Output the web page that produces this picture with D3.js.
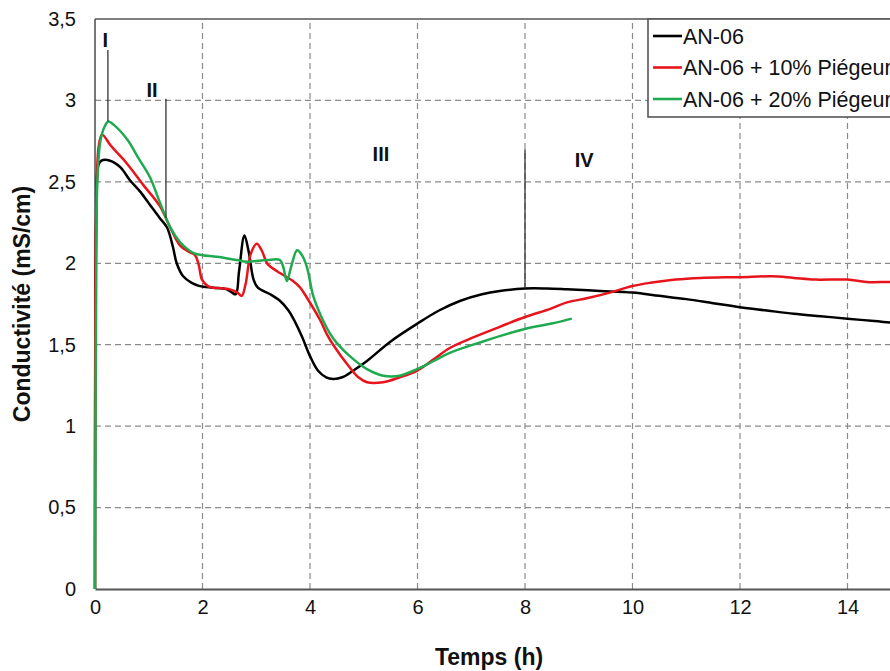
<!DOCTYPE html>
<html>
<head>
<meta charset="utf-8">
<script src="https://cdn.jsdelivr.net/npm/d3@7/dist/d3.min.js"></script>
<style>
  html, body { margin: 0; padding: 0; background: #fff; }
  svg { display: block; overflow: hidden; }
  text { font-family: "Liberation Sans", Arial, Helvetica, sans-serif; }
</style>
</head>
<body>
<div id="chart"></div>
<script>
// ---- Data ----
const seriesNames = ["AN-06", "AN-06 + 10% Piégeur", "AN-06 + 20% Piégeur"];
const seriesColors = ["#000000", "#e8141b", "#1faa50"];

// Temps (h), Conductivité (mS/cm)
const an06 = [
  [0,0],[0.03,2.4],[0.06,2.6],[0.12,2.63],[0.28,2.63],[0.47,2.59],[0.65,2.51],[0.84,2.44],
  [1.02,2.36],[1.2,2.28],[1.34,2.22],[1.45,2.1],[1.52,2.0],[1.64,1.92],[1.8,1.88],[1.95,1.86],
  [2.2,1.85],[2.45,1.84],[2.55,1.82],[2.62,1.81],[2.68,1.95],[2.78,2.17],[2.86,2.07],[2.95,1.9],
  [3.03,1.85],[3.26,1.81],[3.44,1.77],[3.6,1.71],[3.69,1.66],[3.85,1.55],[4.0,1.43],[4.15,1.34],
  [4.3,1.30],[4.43,1.29],[4.6,1.30],[4.8,1.34],[5.06,1.40],[5.5,1.52],[6.0,1.63],[6.4,1.71],
  [6.8,1.77],[7.2,1.81],[7.53,1.83],[8.0,1.845],[8.4,1.845],[8.78,1.84],[9.4,1.83],[10.0,1.82],
  [10.5,1.80],[11.0,1.78],[11.5,1.755],[12.0,1.73],[12.5,1.71],[13.0,1.69],[13.5,1.675],
  [14.0,1.66],[14.5,1.645],[15.0,1.63],[15.5,1.62]
];
const an06p10 = [
  [0,0],[0.03,2.45],[0.07,2.72],[0.13,2.79],[0.3,2.72],[0.6,2.61],[0.9,2.48],[1.21,2.35],
  [1.4,2.22],[1.58,2.11],[1.75,2.07],[1.86,2.05],[1.93,1.99],[1.99,1.90],[2.1,1.86],[2.2,1.85],
  [2.51,1.84],[2.65,1.82],[2.73,1.80],[2.8,1.87],[2.9,2.06],[3.01,2.12],[3.1,2.08],[3.2,2.0],
  [3.26,1.98],[3.44,1.94],[3.69,1.89],[3.82,1.85],[3.94,1.79],[4.19,1.65],[4.32,1.56],[4.43,1.50],
  [4.74,1.36],[4.9,1.30],[5.06,1.27],[5.36,1.27],[5.67,1.30],[5.99,1.34],[6.3,1.41],[6.6,1.48],
  [7.0,1.54],[7.53,1.61],[8.0,1.67],[8.47,1.72],[8.78,1.76],[9.15,1.785],[9.58,1.82],[10.0,1.86],
  [10.33,1.88],[10.8,1.90],[11.26,1.91],[12.0,1.915],[12.6,1.92],[13.0,1.91],[13.4,1.90],
  [14.0,1.90],[14.35,1.885],[14.8,1.885],[15.5,1.88]
];
const an06p20 = [
  [0,0],[0.03,2.3],[0.05,2.55],[0.1,2.75],[0.18,2.84],[0.25,2.87],[0.35,2.85],[0.6,2.76],
  [0.8,2.65],[1.02,2.53],[1.2,2.38],[1.4,2.22],[1.58,2.13],[1.71,2.09],[1.85,2.06],[2.0,2.05],
  [2.27,2.04],[2.64,2.02],[2.83,2.01],[3.2,2.02],[3.44,2.02],[3.5,1.98],[3.57,1.89],[3.65,1.98],
  [3.76,2.08],[3.85,2.05],[3.94,1.98],[4.06,1.80],[4.2,1.68],[4.37,1.57],[4.5,1.51],[4.74,1.43],
  [5.06,1.35],[5.36,1.31],[5.67,1.31],[5.99,1.35],[6.3,1.40],[6.6,1.45],[7.22,1.52],[8.03,1.60],
  [8.5,1.63],[8.87,1.66]
];
const seriesData = [an06, an06p10, an06p20];

const xTicks = [0, 2, 4, 6, 8, 10, 12, 14];
const xGrid = [2, 4, 6, 8, 10, 12, 14, 16];
const yTicks = [0, 0.5, 1, 1.5, 2, 2.5, 3, 3.5];
const xTitle = "Temps (h)";
const yTitle = "Conductivité (mS/cm)";

// Phase annotations: label, t of marker line, top / bottom of marker line
const phaseLabels = ["I", "II", "III", "IV"];
const phaseLabelPos = [[0.19, 3.33], [1.06, 3.02], [5.32, 2.63], [9.1, 2.59]];
const phaseLines = [[0.24, 3.31, 2.87], [1.32, 3.01, 2.28], [8.0, 2.70, 1.845]];

// ---- Layout ----
const W = 890, H = 671;
const plotLeft = 95, plotTop = 19, plotBottom = 589;
const pxPerUnit = 53.75;

const svg = d3.select("#chart").append("svg").attr("width", W).attr("height", H);

const x = d3.scaleLinear().domain([0, 16]).range([plotLeft, plotLeft + 16 * pxPerUnit]);
const y = d3.scaleLinear().domain([0, 3.5]).range([plotBottom, plotTop]);
const fmt = v => String(v).replace(".", ",");

// grid
const grid = svg.append("g");
grid.selectAll(".gx").data(xGrid).join("line")
  .attr("x1", d => x(d)).attr("x2", d => x(d))
  .attr("y1", y(0)).attr("y2", y(3.5))
  .attr("stroke", "#8a8a8a").attr("stroke-width", 1.2).attr("stroke-dasharray", "6,4");
grid.selectAll(".gy").data(yTicks.filter(d => d > 0 && d < 3.5)).join("line")
  .attr("x1", x(0)).attr("x2", x(16))
  .attr("y1", d => y(d)).attr("y2", d => y(d))
  .attr("stroke", "#8a8a8a").attr("stroke-width", 1.2).attr("stroke-dasharray", "6,4");

// frame
svg.append("line").attr("x1", x(0)).attr("x2", x(16)).attr("y1", y(3.5)).attr("y2", y(3.5))
  .attr("stroke", "#555").attr("stroke-width", 1.6);
svg.append("line").attr("x1", x(0)).attr("x2", x(0)).attr("y1", y(0)).attr("y2", y(3.5))
  .attr("stroke", "#555").attr("stroke-width", 1.6);

// axes (labels only, no tick marks)
const xAxis = d3.axisBottom(x).tickValues(xTicks).tickFormat(fmt).tickSize(0).tickPadding(11);
const gx = svg.append("g").attr("transform", `translate(0,${y(0)})`).call(xAxis);
gx.select(".domain").attr("stroke", "#555").attr("stroke-width", 1.8);
gx.selectAll("text").attr("font-size", 20).attr("fill", "#111")
  .attr("font-family", "'Liberation Sans', Arial, sans-serif");

const yAxis = d3.axisLeft(y).tickValues(yTicks).tickFormat(fmt).tickSize(0).tickPadding(19);
const gy = svg.append("g").attr("transform", `translate(${x(0)},0)`).call(yAxis);
gy.select(".domain").remove();
gy.selectAll("text").attr("font-size", 20).attr("fill", "#111")
  .attr("font-family", "'Liberation Sans', Arial, sans-serif");

// curves
const line = d3.line().x(d => x(d[0])).y(d => y(d[1])).curve(d3.curveCatmullRom.alpha(0.5));
svg.append("g").selectAll("path").data(seriesData).join("path")
  .attr("d", line).attr("fill", "none")
  .attr("stroke", (d, i) => seriesColors[i]).attr("stroke-width", 2.5)
  .attr("stroke-linejoin", "round");

// phase marker lines and labels
svg.append("g").selectAll("line").data(phaseLines).join("line")
  .attr("x1", d => x(d[0])).attr("x2", d => x(d[0]))
  .attr("y1", d => y(d[1])).attr("y2", d => y(d[2]))
  .attr("stroke", "#333").attr("stroke-width", 1.3);
svg.append("g").selectAll("text").data(phaseLabels).join("text")
  .attr("x", (d, i) => x(phaseLabelPos[i][0]))
  .attr("y", (d, i) => y(phaseLabelPos[i][1]))
  .attr("text-anchor", "middle")
  .attr("font-size", 20).attr("font-weight", "bold").attr("fill", "#111")
  .text(d => d);

// legend
const lg = svg.append("g");
lg.append("rect").attr("x", 648).attr("y", plotTop).attr("width", 320).attr("height", 98)
  .attr("fill", "#fff").attr("stroke", "#555").attr("stroke-width", 1.6);
seriesNames.forEach((name, i) => {
  const cy = 36 + i * 31.5;
  lg.append("line").attr("x1", 653).attr("x2", 682).attr("y1", cy).attr("y2", cy)
    .attr("stroke", seriesColors[i]).attr("stroke-width", 2.6);
  lg.append("text").attr("x", 683).attr("y", cy + 7.5)
    .attr("font-size", 21.5).attr("fill", "#111").text(name);
});

// axis titles
svg.append("text").attr("x", 489).attr("y", 665).attr("text-anchor", "middle")
  .attr("font-size", 23).attr("font-weight", "bold").attr("fill", "#111").text(xTitle);
svg.append("text").attr("transform", `translate(30,${(y(0) + y(3.5)) / 2}) rotate(-90)`)
  .attr("text-anchor", "middle")
  .attr("font-size", 23).attr("font-weight", "bold").attr("fill", "#111").text(yTitle);
</script>
</body>
</html>
